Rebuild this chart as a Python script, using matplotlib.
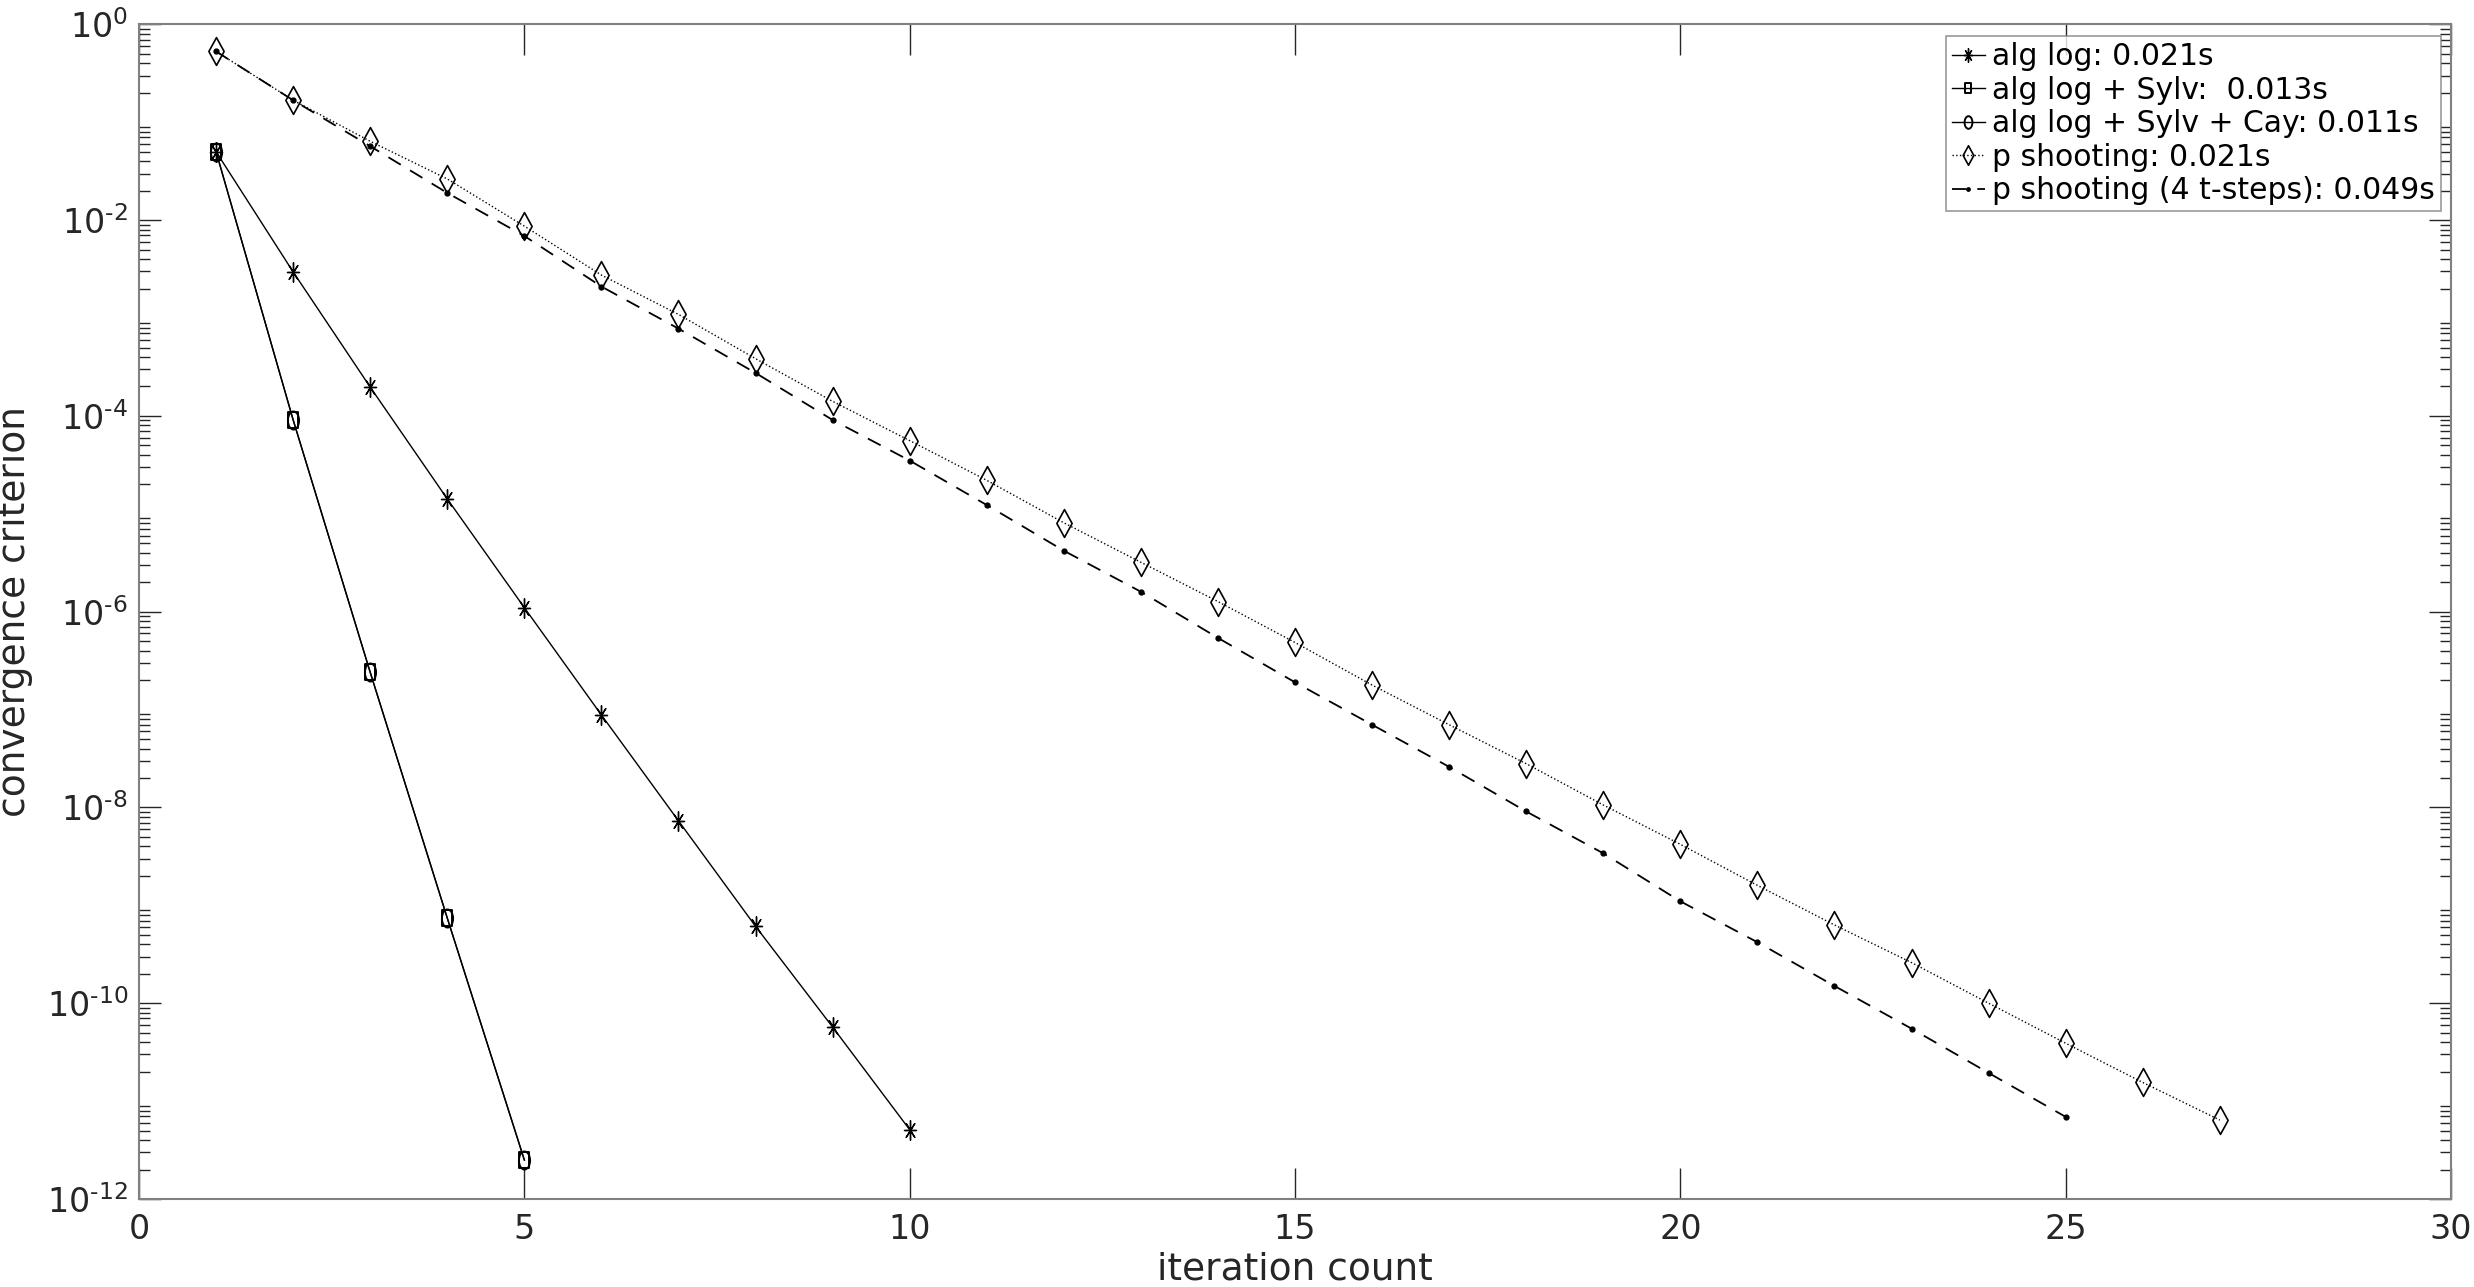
import numpy as np
import matplotlib.pyplot as plt
from matplotlib.path import Path
from matplotlib.transforms import Affine2D
from matplotlib.ticker import LogLocator, NullFormatter, FixedLocator

# iteraciones y criterio de convergencia
it_alg = [1, 2, 3, 4, 5, 6, 7, 8, 9, 10]
alg_log = [5.0e-2, 2.96e-3, 1.97e-4, 1.42e-5, 1.1e-6, 8.8e-8, 7.3e-9, 6.1e-10, 5.7e-11, 5.1e-12]

it_sylv = [1, 2, 3, 4, 5]
alg_sylv = [5.0e-2, 9.1e-5, 2.4e-7, 7.4e-10, 2.5e-12]
alg_sylv_cay = [5.0e-2, 9.1e-5, 2.4e-7, 7.4e-10, 2.5e-12]

it_shoot = list(range(1, 28))
p_shoot = [0.53, 0.168, 0.064, 0.0264, 8.7e-3, 2.75e-3, 1.09e-3, 3.85e-4, 1.41e-4,
           5.6e-5, 2.2e-5, 8.1e-6, 3.2e-6, 1.27e-6, 4.85e-7, 1.78e-7, 7.0e-8,
           2.8e-8, 1.06e-8, 4.2e-9, 1.6e-9, 6.3e-10, 2.6e-10, 1.0e-10, 3.9e-11,
           1.55e-11, 6.4e-12]

it_shoot4 = list(range(1, 26))
p_shoot4 = [0.53, 0.168, 0.057, 0.019, 6.9e-3, 2.1e-3, 7.8e-4, 2.75e-4, 9.1e-5,
            3.5e-5, 1.23e-5, 4.2e-6, 1.6e-6, 5.4e-7, 1.9e-7, 7.0e-8, 2.6e-8,
            9.1e-9, 3.4e-9, 1.1e-9, 4.2e-10, 1.5e-10, 5.5e-11, 1.94e-11, 6.9e-12]

labels = ['alg log: 0.021s', 'alg log + Sylv:  0.013s', 'alg log + Sylv + Cay: 0.011s',
          'p shooting: 0.021s', 'p shooting (4 t-steps): 0.049s']

x_ticks = [0, 5, 10, 15, 20, 25, 30]
y_exps = list(range(-12, 1, 2))

plt.rcParams['font.family'] = ['DejaVu Sans']
plt.rcParams['mathtext.default'] = 'regular'

# marcadores estrechos como en el original
squeeze = Affine2D().scale(0.62, 1.0)
star = squeeze.transform_path(Path.unit_regular_asterisk(8))
circ = squeeze.transform_path(Path.unit_circle())
sq = squeeze.transform_path(Path.unit_rectangle().transformed(Affine2D().translate(-0.5, -0.5)))
diam = Affine2D().scale(0.55, 1.0).transform_path(Path.unit_regular_polygon(4))

fig = plt.figure(figsize=(24.74, 12.87), dpi=100)
ax = fig.add_axes([0.0562, 0.0684, 0.9345, 0.9126])

ax.semilogy(it_alg, alg_log, '-', color='black', lw=1.0, marker=star, ms=14,
            mfc='none', mew=1.0, label=labels[0])
ax.semilogy(it_sylv, alg_sylv, '-', color='black', lw=1.0, marker=sq, ms=11,
            mfc='none', mew=1.4, label=labels[1])
ax.semilogy(it_sylv, alg_sylv_cay, '-', color='black', lw=1.0, marker=circ, ms=13,
            mfc='none', mew=1.4, label=labels[2])
ax.semilogy(it_shoot, p_shoot, ':', color='black', lw=1.0, marker=diam, ms=20,
            mfc='none', mew=1.2, label=labels[3])
ax.semilogy(it_shoot4, p_shoot4, '--', color='black', lw=1.3, dashes=(8, 6),
            marker='o', ms=3.5, mfc='black', label=labels[4])

ax.set_xlim(0, 30)
ax.set_ylim(1e-12, 1)
ax.xaxis.set_major_locator(FixedLocator(x_ticks))
ax.yaxis.set_major_locator(FixedLocator([10.0**k for k in y_exps]))
ax.yaxis.set_minor_locator(LogLocator(base=10, subs=np.arange(2, 10), numticks=30))
ax.yaxis.set_minor_formatter(NullFormatter())
ax.set_yticklabels([r'$10^{\text{-}%d}$' % -k if k < 0 else r'$10^{%d}$' % k for k in y_exps])

ax.tick_params(which='both', direction='in', top=True, right=True,
               colors='#262626', labelsize=24)
ax.tick_params(axis='x', which='major', length=22, width=1.0, pad=10)
ax.tick_params(axis='y', which='major', length=16, width=1.0, pad=8)
ax.tick_params(axis='y', which='minor', length=8, width=1.0)
for s in ax.spines.values():
    s.set_color('#808080')
    s.set_linewidth(1.5)

ax.set_xlabel('iteration count', fontsize=27, color='#262626', labelpad=4)
ax.set_ylabel('convergence criterion', fontsize=27, color='#262626', labelpad=10)

leg = ax.legend(loc='upper right', bbox_to_anchor=(0.9956, 0.99), fontsize=21.5,
                frameon=True, fancybox=False, edgecolor='#808080',
                handlelength=1.1, handletextpad=0.25, labelspacing=0.15,
                borderpad=0.2, borderaxespad=0.0, markerscale=0.7)
leg.get_frame().set_linewidth(1.2)

fig.savefig('out.png', dpi=100)
